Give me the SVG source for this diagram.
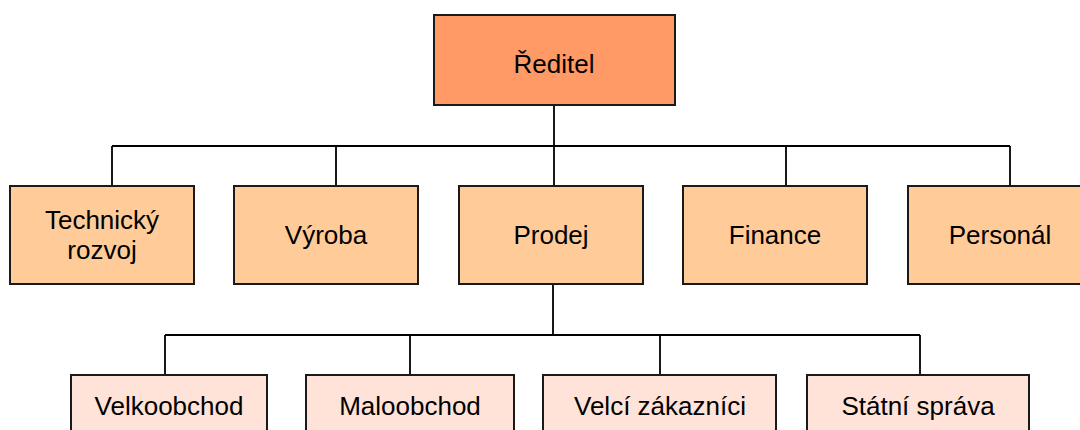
<svg xmlns="http://www.w3.org/2000/svg" width="1080" height="430" viewBox="0 0 1080 430">
  <style>
    .box { stroke: #1a1a1a; stroke-width: 2; }
    .top { fill: #FF9966; }
    .mid { fill: #FFCC99; }
    .low { fill: #FFE3D8; }
    .lbl { font-family: "Liberation Sans", Arial, sans-serif; font-size: 26px; fill: #000; text-anchor: middle; }
    .wire { stroke: #000; stroke-width: 1.8; fill: none; }
  </style>
  <rect width="1080" height="430" fill="#fff"/>

  <!-- connectors -->
  <g id="connectors" class="wire">
    <path d="M554 105V146M112 146H1010M112 146V186M336 146V186M554 146V186M786 146V186M1010 146V186"/>
    <path d="M553 284V335M165 335H920M165 335V375M410 335V375M660 335V375M920 335V375"/>
  </g>

  <!-- director -->
  <g id="reditel">
    <rect class="box top" x="434" y="15" width="241" height="90"/>
    <text class="lbl" x="554" y="73">Ředitel</text>
  </g>

  <!-- departments -->
  <g id="technicky-rozvoj">
    <rect class="box mid" x="10" y="186" width="184" height="98"/>
    <text class="lbl" x="102" y="229">Technický</text>
    <text class="lbl" x="102" y="259">rozvoj</text>
  </g>
  <g id="vyroba">
    <rect class="box mid" x="234" y="186" width="184" height="98"/>
    <text class="lbl" x="326" y="244">Výroba</text>
  </g>
  <g id="prodej">
    <rect class="box mid" x="459" y="186" width="184" height="98"/>
    <text class="lbl" x="551" y="244">Prodej</text>
  </g>
  <g id="finance">
    <rect class="box mid" x="683" y="186" width="184" height="98"/>
    <text class="lbl" x="775" y="244">Finance</text>
  </g>
  <g id="personal">
    <rect class="box mid" x="908" y="186" width="184" height="98"/>
    <text class="lbl" x="1000" y="244">Personál</text>
  </g>

  <!-- sales sections -->
  <g id="velkoobchod">
    <rect class="box low" x="71" y="375" width="196" height="99"/>
    <text class="lbl" x="169" y="415">Velkoobchod</text>
  </g>
  <g id="maloobchod">
    <rect class="box low" x="306" y="375" width="208" height="99"/>
    <text class="lbl" x="410" y="415">Maloobchod</text>
  </g>
  <g id="velci-zakaznici">
    <rect class="box low" x="543" y="375" width="233" height="99"/>
    <text class="lbl" x="660" y="415">Velcí zákazníci</text>
  </g>
  <g id="statni-sprava">
    <rect class="box low" x="807" y="375" width="222" height="99"/>
    <text class="lbl" x="918" y="415">Státní správa</text>
  </g>
</svg>
